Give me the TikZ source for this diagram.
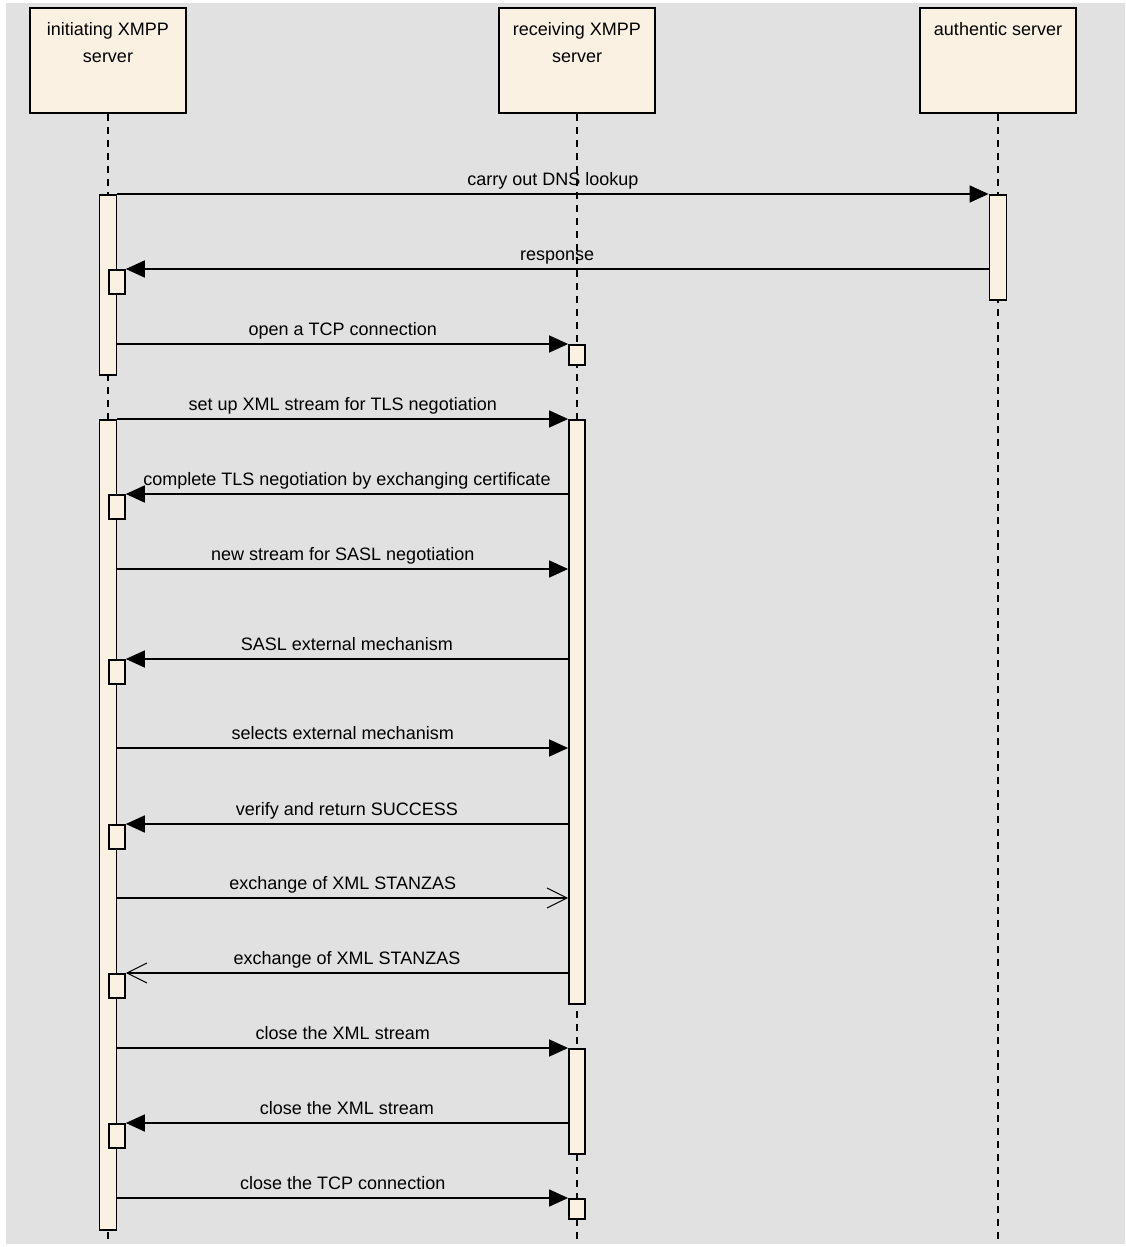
\documentclass[tikz,border=0pt]{standalone}
\usepackage{fontspec}
\setmainfont{Liberation Sans}
\usetikzlibrary{arrows.meta}
\definecolor{bggray}{RGB}{225,225,225}
\definecolor{boxfill}{RGB}{251,241,227}

\begin{document}
\begin{tikzpicture}[x=1pt, y=-1pt,
  font=\fontsize{18}{27}\selectfont,
  head/.style={draw, fill=boxfill, line width=1.8pt, minimum width=156pt, minimum height=105pt, inner sep=0pt},
  headtext/.style={anchor=north, align=center, inner sep=0pt, yshift=-15pt},
  life/.style={line width=1.8pt, dash pattern=on 7pt off 6pt},
  act/.style={draw, fill=boxfill, line width=1.8pt, minimum width=17pt, inner sep=0pt, anchor=north},
  nested/.style={act, minimum width=16pt, minimum height=24pt, anchor=north west},
  msg/.style={line width=1.5pt, -{Triangle[length=19pt,width=17pt]}},
  reply/.style={line width=1.5pt, -{Straight Barb[length=20pt,width=20pt,line width=1pt]}},
  lbl/.style={midway, above=4pt, inner sep=0pt, text depth=4pt}]
  \useasboundingbox (0,0) rectangle (1125,1247);
  \fill[white] (0,0) rectangle (1125,1247);
  \fill[bggray] (6,3) rectangle (1125,1244);
  \coordinate (bot) at (0,1244);
  % Participants
  \node[head] (init) at (108,60.5) {};
  \node[head] (recv) at (577,60.5) {};
  \node[head] (auth) at (998,60.5) {};
  \node[headtext] (init-t) at (init.north) {initiating XMPP\\server};
  \node[headtext] (recv-t) at (recv.north) {receiving XMPP\\server};
  \node[headtext] (auth-t) at (auth.north) {authentic server};
  \draw[life] (init.south) -- (init.south |- bot);
  \draw[life] (recv.south) -- (recv.south |- bot);
  \draw[life] (auth.south) -- (auth.south |- bot);
  % Activations
  \node[act, minimum height=180pt] (a1) at (108,194) {};
  \node[act, minimum height=810pt] (a2) at (108,419) {};
  \node[act, minimum height=105pt] (au1) at (998,194) {};
  \node[act, minimum width=16pt, minimum height=20pt] (r1) at (577,344) {};
  \node[act, minimum width=16pt, minimum height=584pt] (r2) at (577,419) {};
  \node[act, minimum width=16pt, minimum height=105pt] (r3) at (577,1048) {};
  \node[act, minimum width=16pt, minimum height=20pt] (r4) at (577,1198) {};
  \node[nested] (s1) at (108,269) {};
  \node[nested] (s2) at (108,494) {};
  \node[nested] (s3) at (108,659) {};
  \node[nested] (s4) at (108,824) {};
  \node[nested] (s5) at (108,973) {};
  \node[nested] (s6) at (108,1123) {};
  \coordinate (m6) at (0,569);
  \coordinate (m8) at (0,748);
  \coordinate (m10) at (0,898);
  % Messages
  \draw[msg] (a1.north east) -- node[lbl] {carry out DNS lookup} (au1.north west);
  \draw[msg] (au1.west |- s1.north) -- node[lbl] {response} (s1.north east);
  \draw[msg] (a1.east |- r1.north) -- node[lbl] {open a TCP connection} (r1.north west);
  \draw[msg] (a2.north east) -- node[lbl] {set up XML stream for TLS negotiation} (r2.north west);
  \draw[msg] (r2.west |- s2.north) -- node[lbl] {complete TLS negotiation by exchanging certificate} (s2.north east);
  \draw[msg] (a2.east |- m6) -- node[lbl] {new stream for SASL negotiation} (r2.west |- m6);
  \draw[msg] (r2.west |- s3.north) -- node[lbl] {SASL external mechanism} (s3.north east);
  \draw[msg] (a2.east |- m8) -- node[lbl] {selects external mechanism} (r2.west |- m8);
  \draw[msg] (r2.west |- s4.north) -- node[lbl] {verify and return SUCCESS} (s4.north east);
  \draw[reply] (a2.east |- m10) -- node[lbl] {exchange of XML STANZAS} (r2.west |- m10);
  \draw[reply] (r2.west |- s5.north) -- node[lbl] {exchange of XML STANZAS} (s5.north east);
  \draw[msg] (a2.east |- r3.north) -- node[lbl] {close the XML stream} (r3.north west);
  \draw[msg] (r3.west |- s6.north) -- node[lbl] {close the XML stream} (s6.north east);
  \draw[msg] (a2.east |- r4.north) -- node[lbl] {close the TCP connection} (r4.north west);
\end{tikzpicture}
\end{document}
